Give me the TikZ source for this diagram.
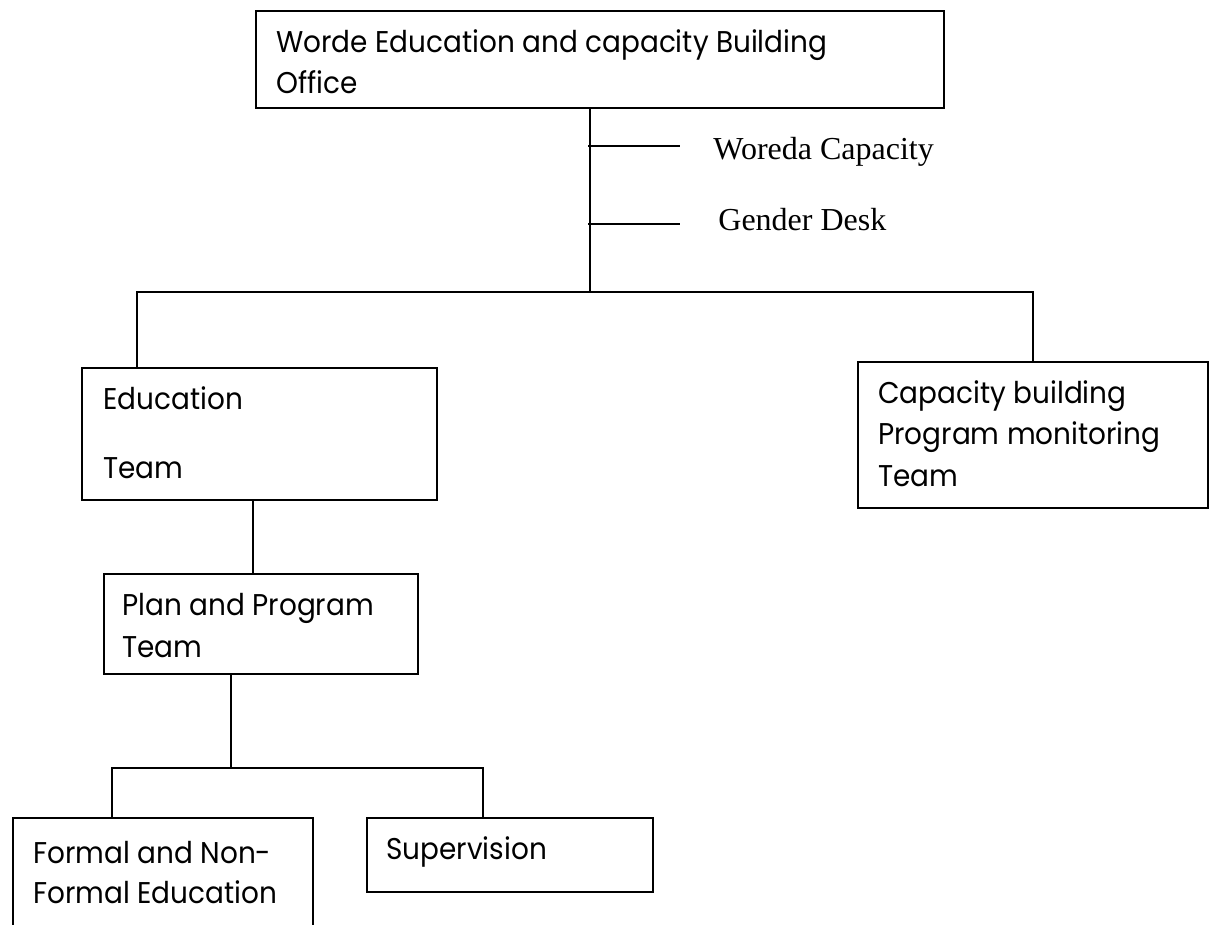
\documentclass[tikz,border=0pt]{standalone}
\usepackage{fontspec}
\setmainfont{Poppins}[FakeStretch=0.93]
\newfontfamily\seriffont{Liberation Serif}
\begin{document}
\begin{tikzpicture}[x=0.5pt,y=-0.5pt,
  box/.style={draw, line width=1pt, inner sep=0pt, anchor=north west},
  lbl/.style={anchor=base west, inner sep=0pt, font=\fontsize{15pt}{18pt}\selectfont},
  slbl/.style={anchor=base west, inner sep=0pt, font=\seriffont\fontsize{16pt}{19pt}\selectfont},
  conn/.style={line width=1pt}]
\useasboundingbox (0,0) rectangle (1215,925);
\clip (0,0) rectangle (1215,925);

% boxes
\node[box, minimum width=344pt, minimum height=48.5pt] (top) at (255,10) {};
\node[box, minimum width=177.5pt, minimum height=66pt] (edu) at (81,367) {};
\node[box, minimum width=175pt, minimum height=73pt] (cap) at (857,361) {};
\node[box, minimum width=157pt, minimum height=50pt] (plan) at (103,573) {};
\node[box, minimum width=150pt, minimum height=64pt] (formal) at (12,817) {};
\node[box, minimum width=143pt, minimum height=37pt] (sup) at (366,817) {};

% texts
\node[lbl] (topA) at (276,53) {Worde Education and capacity Building};
\node[lbl] (topB) at (276,94) {Office};
\node[lbl] (eduA) at (103,409) {Education};
\node[lbl] (eduB) at (103,478) {Team};
\node[lbl] (capA) at (878,403) {Capacity building};
\node[lbl] (capB) at (878,444) {Program monitoring};
\node[lbl] (capC) at (878,486) {Team};
\node[lbl] (planA) at (122,615) {Plan and Program};
\node[lbl] (planB) at (122,657) {Team};
\node[lbl] (formalA) at (33,863) {Formal and Non-};
\node[lbl] (formalB) at (33,903) {Formal Education};
\node[lbl] (supA) at (386,859) {Supervision};
\node[slbl] (woreda) at (713,160) {Woreda Capacity};
\node[slbl] (gender) at (718,231) {Gender Desk};

% junction coordinates
\coordinate (j0) at (590,292);
\coordinate (hl) at (137,292);
\coordinate (hr) at (1033,292);
\coordinate (tw) at (588,146);
\coordinate (tg) at (588,224);
\coordinate (ep) at (253,500);
\coordinate (pm) at (231,768);
\coordinate (pl) at (112,768);
\coordinate (pr) at (483,768);

% connectors
\draw[conn] (top.south -| j0) -- (j0);
\draw[conn, shorten >=16.5pt] (tw) -- (tw -| woreda.west);
\draw[conn, shorten >=16.5pt] (tg) -- (tg -| woreda.west);
\draw[conn] (edu.north -| hl) -- (hl) -- (hr) -- (cap.north -| hr);
\draw[conn] (edu.south -| ep) -- (plan.north -| ep);
\draw[conn] (plan.south -| pm) -- (pm);
\draw[conn] (formal.north -| pl) -- (pl) -- (pr) -- (sup.north -| pr);
\end{tikzpicture}
\end{document}
